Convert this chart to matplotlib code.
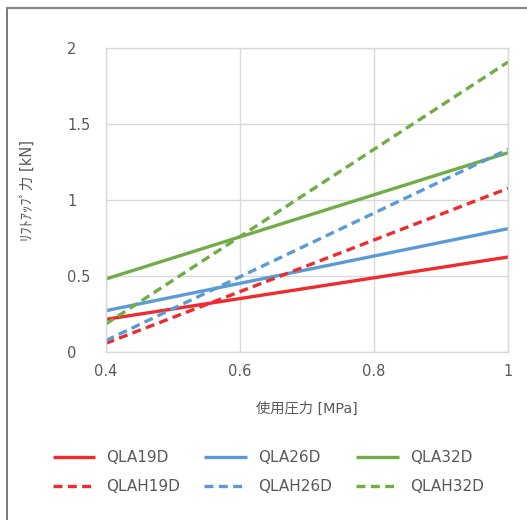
import matplotlib
matplotlib.use('Agg')
import matplotlib.pyplot as plt
from matplotlib.lines import Line2D

plt.rcParams['font.family'] = ['DejaVu Sans', 'Noto Sans CJK JP']

# data
pressure = [0.4, 1.0]
series_names = ['QLA19D', 'QLA26D', 'QLA32D', 'QLAH19D', 'QLAH26D', 'QLAH32D']
qla19d = [0.213, 0.624]
qla26d = [0.27, 0.811]
qla32d = [0.479, 1.312]
qlah19d = [0.055, 1.077]
qlah26d = [0.073, 1.334]
qlah32d = [0.182, 1.91]
x_ticks = [0.4, 0.6, 0.8, 1.0]
x_ticklabels = ['0.4', '0.6', '0.8', '1']
y_ticks = [0, 0.5, 1, 1.5, 2]
y_ticklabels = ['0', '0.5', '1', '1.5', '2']

RED = '#ef2b2d'
BLUE = '#5b9bd5'
GREEN = '#70ad47'
TXT = '#595959'
GRID = '#d9d9d9'

fig = plt.figure(figsize=(5.27, 5.20), dpi=100)
ax = fig.add_axes([0.2006, 0.3237, 0.7634, 0.5833])

lw = 2.4
dash = (2.7, 1.6)
styles = [
    (qla19d, RED, '-'), (qla26d, BLUE, '-'), (qla32d, GREEN, '-'),
    (qlah19d, RED, '--'), (qlah26d, BLUE, '--'), (qlah32d, GREEN, '--'),
]
handles = []
for (vals, col, ls), name in zip(styles, series_names):
    if ls == '-':
        ln, = ax.plot(pressure, vals, color=col, lw=lw, solid_capstyle='butt', label=name)
    else:
        ln, = ax.plot(pressure, vals, color=col, lw=lw, dashes=dash, label=name)
    handles.append(ln)

ax.set_xlim(0.4, 1.0)
ax.set_ylim(0, 2)
ax.set_xticks(x_ticks)
ax.set_xticklabels(x_ticklabels)
ax.set_yticks(y_ticks)
ax.set_yticklabels(y_ticklabels, ha='left')
ax.grid(True, color=GRID, lw=1)
ax.set_axisbelow(True)
for s in ax.spines.values():
    s.set_color(GRID)
    s.set_linewidth(1)
ax.tick_params(length=0, colors=TXT, labelsize=10.5)
ax.tick_params(axis='y', pad=27.9)
ax.tick_params(axis='x', pad=9)

ax.set_xlabel('使用圧力 [MPa]', color=TXT, fontsize=10.3, labelpad=16)
ax.set_ylabel('ﾘﾌﾄｱｯﾌﾟ力 [kN]', color=TXT, fontsize=10.5)
ax.yaxis.set_label_coords(-0.1757, 0.533)

# legend: 2 rows x 3 cols, column-major order
order = [0, 3, 1, 4, 2, 5]
leg = fig.legend([handles[i] for i in order], [series_names[i] for i in order],
                 ncol=3, loc='center', bbox_to_anchor=(0.509, 0.092), frameon=False,
                 fontsize=11, handlelength=2.81, handletextpad=0.72, columnspacing=1.57,
                 labelspacing=0.95)
for t in leg.get_texts():
    t.set_color(TXT)

# outer frame (left and top only)
fig.add_artist(Line2D([0.0133, 0.0133], [0, 0.984], transform=fig.transFigure, color='#6e6e6e', lw=1.3))
fig.add_artist(Line2D([0.0133, 1], [0.984, 0.984], transform=fig.transFigure, color='#8a8a8a', lw=1.6))

fig.savefig('out.png', dpi=100, facecolor='white')
